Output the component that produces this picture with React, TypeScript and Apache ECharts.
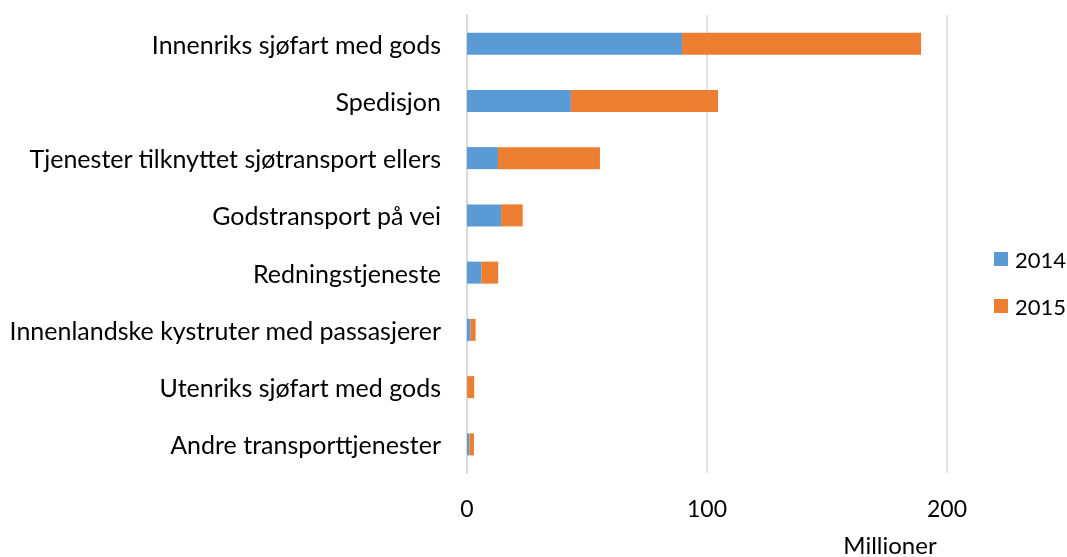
import React, { useEffect, useRef } from "react";
import * as echarts from "echarts";

const categories = [
  "Innenriks sjøfart med gods",
  "Spedisjon",
  "Tjenester tilknyttet sjøtransport ellers",
  "Godstransport på vei",
  "Redningstjeneste",
  "Innenlandske kystruter med passasjerer",
  "Utenriks sjøfart med gods",
  "Andre transporttjenester",
];
const values2014 = [89.6, 43.3, 12.9, 14.2, 6.0, 1.5, 0.1, 1.0];
const values2015 = [99.6, 61.3, 42.5, 9.0, 7.0, 2.1, 2.9, 1.9];
const xTicks = [0, 100, 200];

const FONT = "Lato, 'Open Sans', sans-serif";

export default function App() {
  const ref = useRef<HTMLDivElement>(null);
  useEffect(() => {
    if (!ref.current) return;
    const chart = echarts.init(ref.current, null, { renderer: "svg" });
    chart.setOption({
      animation: false,
      grid: { left: 467, right: 120, top: 15, bottom: 84, containLabel: false },
      legend: {
        orient: "vertical",
        left: 989,
        top: 243,
        itemWidth: 14,
        itemHeight: 14,
        itemGap: 25,
        icon: "rect",
        textStyle: { fontFamily: FONT, fontSize: 22, color: "#000", padding: [0, 0, 0, 2] },
        data: ["2014", "2015"],
      },
      graphic: [
        {
          type: "text",
          x: 890,
          y: 544,
          style: {
            text: "Millioner",
            fontFamily: FONT,
            fontSize: 24,
            fill: "#000",
            textAlign: "center",
            textVerticalAlign: "middle",
          },
        },
      ],
      xAxis: {
        type: "value",
        min: 0,
        max: 200,
        interval: 100,
        axisLine: { show: false },
        axisTick: { show: false },
        axisLabel: {
          fontFamily: FONT,
          fontSize: 23,
          color: "#000",
          margin: 23,
          formatter: (v: number) => (xTicks.includes(v) ? String(v) : ""),
        },
        splitLine: { show: true, lineStyle: { color: "#d9d9d9", width: 1.5 } },
      },
      yAxis: {
        type: "category",
        inverse: true,
        data: categories,
        axisLine: { show: true, lineStyle: { color: "#d9d9d9", width: 2 } },
        axisTick: { show: false },
        axisLabel: {
          fontFamily: FONT,
          fontSize: 25,
          color: "#000",
          margin: 26,
        },
      },
      series: [
        {
          name: "2014",
          type: "bar",
          stack: "total",
          barWidth: 22,
          data: values2014,
          itemStyle: { color: "#5B9BD5" },
        },
        {
          name: "2015",
          type: "bar",
          stack: "total",
          barWidth: 22,
          data: values2015,
          itemStyle: { color: "#ED7D31" },
        },
      ],
    });
    return () => chart.dispose();
  }, []);
  return (
    <div
      ref={ref}
      style={{ position: "fixed", left: 0, top: 0, width: 1067, height: 557 }}
    />
  );
}
